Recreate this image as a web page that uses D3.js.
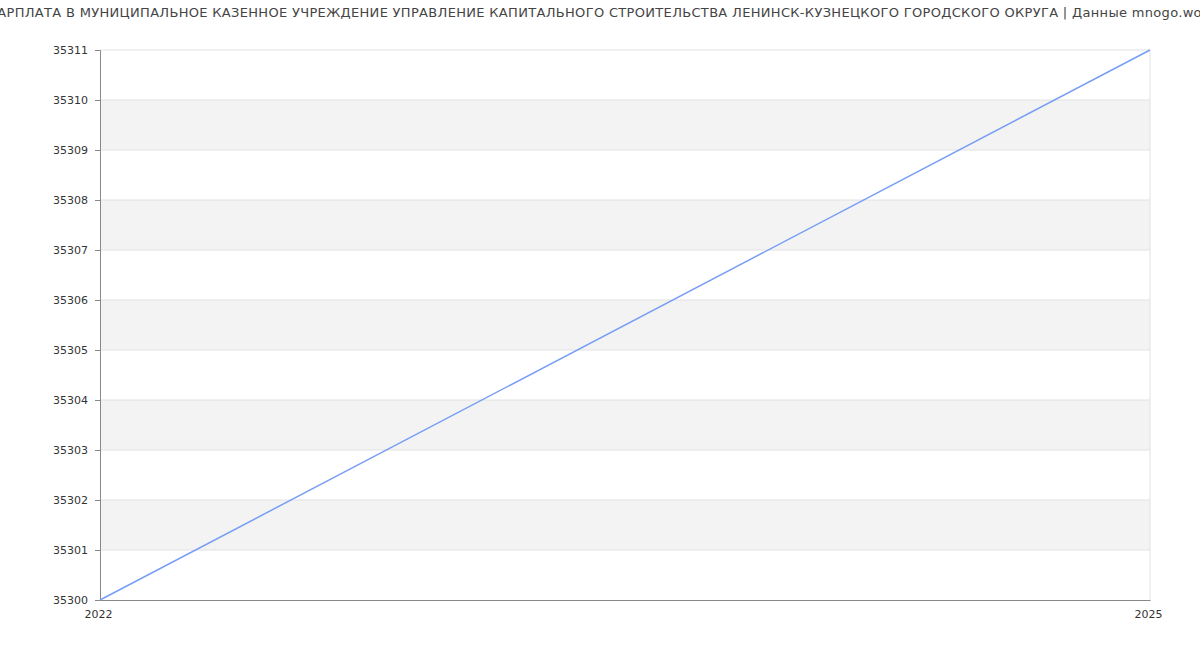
<!DOCTYPE html>
<html>
<head>
<meta charset="utf-8">
<script src="https://cdn.jsdelivr.net/npm/d3@7"></script>
<style>
    body { margin: 0; background: #fff; overflow: hidden; }
    svg { display: block; font-family: "DejaVu Sans", sans-serif; }
</style>
</head>
<body>
<svg id="chart" width="1200" height="650"></svg>
<script>
const titleText = 'ЗАРПЛАТА В МУНИЦИПАЛЬНОЕ КАЗЕННОЕ УЧРЕЖДЕНИЕ УПРАВЛЕНИЕ КАПИТАЛЬНОГО СТРОИТЕЛЬСТВА ЛЕНИНСК-КУЗНЕЦКОГО ГОРОДСКОГО ОКРУГА | Данные mnogo.work';
const years = [2022, 2025];
const salaries = [35300, 35311];
const yTicks = d3.range(35300, 35312);

const svg = d3.select('#chart');
const margin = {top: 50, right: 50, bottom: 50, left: 100};
const width = 1200, height = 650;

const x = d3.scaleLinear()
    .domain([years[0], years[years.length - 1]])
    .range([margin.left, width - margin.right]);

const y = d3.scaleLinear()
    .domain([35300, 35311])
    .range([height - margin.bottom, margin.top]);

// Alternating bands
const bands = yTicks.slice(0, -1).filter((d, i) => i % 2 === 1);
svg.append('g').selectAll('rect')
    .data(bands)
    .enter()
    .append('rect')
    .attr('x', margin.left)
    .attr('width', x.range()[1] - margin.left)
    .attr('y', d => y(d + 1))
    .attr('height', d => y(d) - y(d + 1))
    .style('fill', '#f3f3f3');

// Gridlines
svg.append('g').selectAll('line')
    .data(yTicks.slice(1))
    .enter()
    .append('line')
    .attr('x1', margin.left)
    .attr('x2', x.range()[1])
    .attr('y1', d => y(d))
    .attr('y2', d => y(d))
    .style('stroke', '#e2e2e2')
    .style('stroke-width', 1);

// Right border
svg.append('line')
    .attr('x1', x.range()[1]).attr('x2', x.range()[1])
    .attr('y1', margin.top).attr('y2', height - margin.bottom)
    .style('stroke', '#e2e2e2');

// Y axis
const yAxis = svg.append('g')
    .attr('transform', `translate(${margin.left},0)`)
    .call(d3.axisLeft(y).tickValues(yTicks).tickFormat(d3.format('d')).tickSize(5).tickPadding(7));
yAxis.select('.domain').style('stroke', '#888');
yAxis.selectAll('.tick line').style('stroke', '#888');
yAxis.selectAll('text').style('fill', '#333').style('font-size', '11px')
    .style('font-family', '"DejaVu Sans", sans-serif');

// X axis
const xAxis = svg.append('g')
    .attr('transform', `translate(0,${height - margin.bottom})`)
    .call(d3.axisBottom(x).tickValues(years).tickFormat(d3.format('d')).tickSize(0).tickPadding(10));
xAxis.select('.domain').style('stroke', '#888');
xAxis.selectAll('text').style('fill', '#333').style('font-size', '11px')
    .style('font-family', '"DejaVu Sans", sans-serif')
    .attr('dx', '-2');

// Line
const line = d3.line()
    .x((d, i) => x(years[i]))
    .y(d => y(d));

svg.append('path')
    .datum(salaries)
    .attr('d', line)
    .style('fill', 'none')
    .style('stroke', '#779ef5')
    .style('stroke-width', 1.5);

// Title (wider than the page, centred and clipped at both sides)
svg.append('text')
    .attr('x', width / 2 + 2)
    .attr('y', 17)
    .attr('text-anchor', 'middle')
    .style('font-size', '13px')
    .style('letter-spacing', '0.32px')
    .style('fill', '#444')
    .text(titleText);
</script>
</body>
</html>
